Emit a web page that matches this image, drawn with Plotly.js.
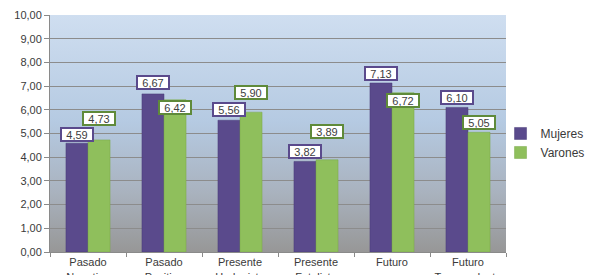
<!DOCTYPE html>
<html>
<head>
<meta charset="utf-8">
<script src="https://cdn.plot.ly/plotly-3.0.1.min.js"></script>
<style>html,body{margin:0;padding:0;background:#fff;}#chart{width:593px;height:275px;}</style>
</head>
<body>
<div id="chart"></div>
<script>
const categories = ["Pasado<br>Negativo", "Pasado<br>Positivo", "Presente<br>Hedonista", "Presente<br>Fatalista", "Futuro", "Futuro<br>Trascendente"];
const mujeres = [4.59, 6.67, 5.56, 3.82, 7.13, 6.10];
const varones = [4.73, 6.42, 5.90, 3.89, 6.72, 5.05];
const yTicks = [0, 1, 2, 3, 4, 5, 6, 7, 8, 9, 10];

// label box vertical offsets (px, style only)
const mujOffset = [9, 11, 11, 10, 10, 10];
const varOffset = [21, -8, 20, 28, -8, 10];

const purple = "#5a4a8c";
const green = "#8fbf5c";

const fmt = v => v.toFixed(2).replace(".", ",");

const traces = [
  {type: "bar", name: "Mujeres", x: categories, y: mujeres, marker: {color: purple, line: {color: "#4a3d78", width: 0.5}}, hoverinfo: "none"},
  {type: "bar", name: "Varones", x: categories, y: varones, marker: {color: green, line: {color: "#78a84a", width: 0.5}}, hoverinfo: "none"}
];

const annotations = [];
categories.forEach((c, i) => {
  annotations.push({x: c, y: mujeres[i], xref: "x", yref: "y", text: fmt(mujeres[i]), showarrow: false,
    xshift: -11, yshift: mujOffset[i], yanchor: "middle", width: 30, height: 11,
    bgcolor: "#ffffff", bordercolor: "#5a4a8c", borderwidth: 2, borderpad: 0,
    font: {family: "Liberation Sans, Arial, sans-serif", size: 11, color: "#404040"}});
  annotations.push({x: c, y: varones[i], xref: "x", yref: "y", text: fmt(varones[i]), showarrow: false,
    xshift: 11, yshift: varOffset[i], yanchor: "middle", width: 30, height: 11,
    bgcolor: "#ffffff", bordercolor: "#5f8a3a", borderwidth: 2, borderpad: 0,
    font: {family: "Liberation Sans, Arial, sans-serif", size: 11, color: "#404040"}});
});

const grad = '<svg xmlns="http://www.w3.org/2000/svg" width="10" height="100" preserveAspectRatio="none"><defs><linearGradient id="g" x1="0" y1="0" x2="0" y2="1"><stop offset="0" stop-color="#cfdef0"/><stop offset="0.45" stop-color="#b5cae2"/><stop offset="0.75" stop-color="#a9b2be"/><stop offset="1" stop-color="#979797"/></linearGradient></defs><rect width="10" height="100" fill="url(#g)"/></svg>';

const layout = {
  width: 593, height: 275,
  margin: {l: 50, r: 87, t: 15, b: 23, autoexpand: false},
  paper_bgcolor: "#ffffff",
  plot_bgcolor: "rgba(0,0,0,0)",
  separators: ",.",
  barmode: "group",
  bargap: 0.42,
  bargroupgap: 0,
  font: {family: "Liberation Sans, Arial, sans-serif", size: 11, color: "#3a3a3a"},
  images: [{source: "data:image/svg+xml;charset=utf-8," + encodeURIComponent(grad), xref: "paper", yref: "paper",
    x: 0, y: 1, sizex: 1, sizey: 1, sizing: "stretch", xanchor: "left", yanchor: "top", layer: "below"}],
  xaxis: {
    type: "category", showgrid: false, showline: true, linecolor: "#8a8a8a", linewidth: 1,
    ticks: "outside", tickson: "boundaries", ticklen: 4, tickcolor: "#8a8a8a", tickangle: 0,
    tickfont: {size: 11, color: "#3a3a3a"}, fixedrange: true
  },
  yaxis: {
    range: [0, 10], tickvals: yTicks, tickformat: ".2f", showgrid: true, gridcolor: "#8c8c8c", gridwidth: 1,
    showline: true, linecolor: "#8a8a8a", ticks: "outside", ticklen: 5, tickcolor: "#8a8a8a",
    tickfont: {size: 11, color: "#3a3a3a"}, zeroline: false, fixedrange: true
  },
  legend: {x: 0.988, xanchor: "left", y: 0.46, yanchor: "middle", font: {size: 12, color: "#3a3a3a"},
    bgcolor: "rgba(0,0,0,0)", itemwidth: 30, tracegroupgap: 0},
  showlegend: true,
  annotations: annotations
};

Plotly.newPlot("chart", traces, layout, {displayModeBar: false, staticPlot: true});
</script>
</body>
</html>
